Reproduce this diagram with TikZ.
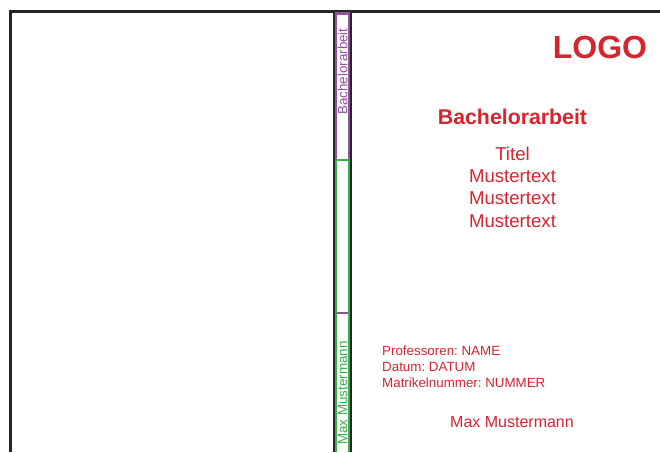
\documentclass[tikz,border=0pt]{standalone}
\usepackage{fontspec}
\setmainfont{Liberation Sans}
\definecolor{redtxt}{RGB}{214,36,48}
\definecolor{purp}{RGB}{146,80,160}
\definecolor{grn}{RGB}{58,176,74}
\definecolor{blk}{RGB}{38,38,38}
\tikzset{
  redlabel/.style={text=redtxt,inner sep=0pt,align=center},
  sidelabel/.style={redlabel,align=left},
  spinetext/.style={inner sep=0pt,rotate=90,font=\fontsize{13.4}{14}\selectfont},
  framestroke/.style={draw=blk,line width=3pt},
  spinestroke/.style={draw=blk,line width=2pt},
  purpstroke/.style={draw=purp,line width=2.6pt},
  grnstroke/.style={draw=grn,line width=2.6pt}
}
\begin{document}
\frenchspacing
\begin{tikzpicture}[x=1pt,y=-1pt]
\useasboundingbox[fill=white] (0,0) rectangle (660,452);
% spine black edges
\draw[spinestroke] (334.4,11) -- (334.4,452);
\draw[spinestroke] (350.6,11) -- (350.6,452);
% frame
\draw[framestroke] (10.5,452) -- (10.5,11.5) -- (660,11.5);
% spine coloured sections
\draw[purpstroke] (336,160) -- (336,13.5) -- (348.8,13.5) -- (348.8,160);
\draw[grnstroke] (336,452) -- (336,160) -- (348.8,160) -- (348.8,452);
\draw[purpstroke] (337,313) -- (347.8,313);
\node[spinetext,text=purp] (spineA) at (342.5,71.5) {Bachelorarbeit};
\node[spinetext,text=grn] (spineB) at (342.5,393) {Max Mustermann};
% cover
\node[redlabel,font=\fontsize{32}{32}\bfseries\selectfont] (logo) at (600,47) {LOGO};
\node[redlabel,font=\fontsize{21.3}{24}\bfseries\selectfont] (kind) at (512.5,116.5) {Bachelorarbeit};
\node[redlabel,font=\fontsize{18.6}{22.4}\selectfont] (title) at (512.5,187) {Titel\\Mustertext\\Mustertext\\Mustertext};
\node[sidelabel,font=\fontsize{13.35}{15.8}\selectfont,anchor=north west] (meta) at (382,345.8) {Professoren: NAME\\Datum: DATUM\\Matrikelnummer: NUMMER};
\node[redlabel,font=\fontsize{16}{20}\selectfont] (author) at (512,422) {Max Mustermann};
\end{tikzpicture}
\end{document}
